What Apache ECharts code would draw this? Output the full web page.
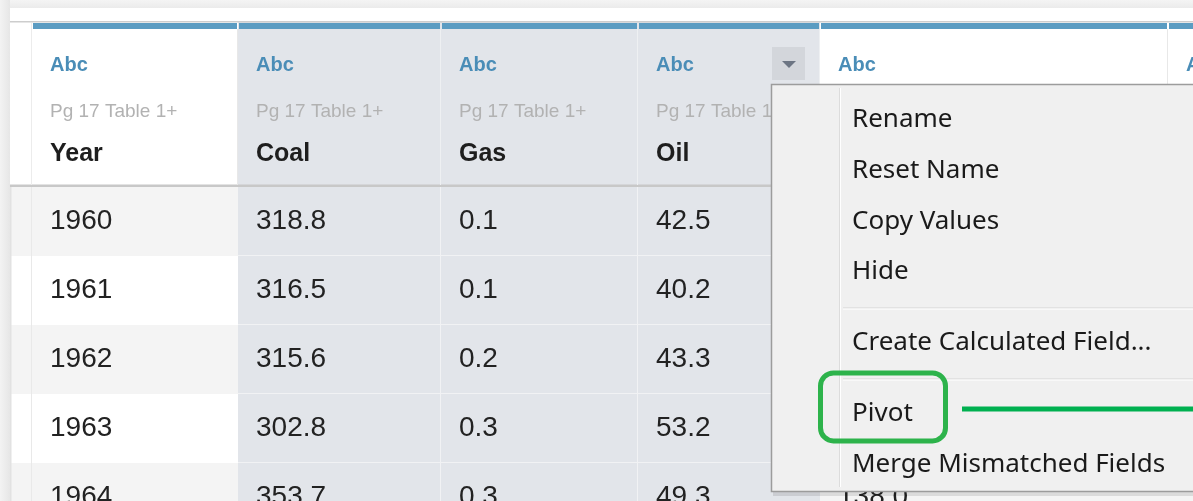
<!DOCTYPE html>
<html><head><meta charset="utf-8">
<script src="https://cdn.jsdelivr.net/npm/echarts@6/dist/echarts.min.js"></script>
<style>html,body{margin:0;padding:0;background:#fff}#c{width:1193px;height:501px}</style>
</head><body><div id="c"></div>
<script>
// ---- data ----
const fieldNames  = ['Year', 'Coal', 'Gas', 'Oil', '', ''];
const fieldTypes  = ['Abc', 'Abc', 'Abc', 'Abc', 'Abc', 'Abc'];
const fieldSource = ['Pg 17 Table 1+', 'Pg 17 Table 1+', 'Pg 17 Table 1+', 'Pg 17 Table 1+', '', ''];
const years = ['1960', '1961', '1962', '1963', '1964'];
const coal  = [318.8, 316.5, 315.6, 302.8, 353.7];
const gas   = [0.1, 0.1, 0.2, 0.3, 0.3];
const oil   = [42.5, 40.2, 43.3, 53.2, 49.3];
const nextField = [null, null, null, null, 138.0];
const menuItems = ['Rename', 'Reset Name', 'Copy Values', 'Hide', '-', 'Create Calculated Field...', '-', 'Pivot', 'Merge Mismatched Fields'];
const highlightedItem = 'Pivot';

// ---- layout / style ----
const L = {
  colEdges: [10, 32, 238, 441, 638, 820, 1168, 1420], // gutter, Year, Coal, Gas, Oil, next, next
  selected: [2, 3, 4],
  menuColumn: 4,
  textPad: 18
};
const fmt = v => (v == null ? '' : v.toFixed(1));
const columnText = [null, years, coal.map(fmt), gas.map(fmt), oil.map(fmt), nextField.map(fmt), []];
const FONT_NUM = '28px "Liberation Sans", Arial, sans-serif';
const FONT_MENU = '26px "Noto Sans", "Open Sans", sans-serif';

const bodyData = [];
for (let r = 0; r < years.length; r++) for (let c = 0; c < L.colEdges.length - 1; c++) bodyData.push([c, r]);
const headData = [];
for (let c = 0; c < L.colEdges.length - 1; c++) headData.push([c, 0]);

function renderBody(params, api) {
  const c = api.value(0), r = api.value(1);
  const ctr = api.coord([L.colEdges[c], r]);
  const x0 = ctr[0], x1 = api.coord([L.colEdges[c + 1], r])[0];
  const bandH = api.size([0, 1])[1];
  const y0 = ctr[1] - bandH / 2;
  const sel = L.selected.indexOf(c) >= 0;
  const fill = sel ? '#e2e5ea' : (r % 2 === 0 ? '#f4f4f4' : '#ffffff');
  const ch = [
    { type: 'rect', shape: { x: x0, y: y0, width: x1 - x0, height: bandH }, style: { fill: fill } }
  ];
  if (sel) {
    ch.push({ type: 'rect', shape: { x: x0, y: y0 + bandH - 1, width: x1 - x0, height: 2 }, style: { fill: '#f1f2f4' } });
    if (c !== 4) ch.push({ type: 'rect', shape: { x: x1 - 1, y: y0, width: 2, height: bandH }, style: { fill: '#f1f2f4' } });
  }
  if (c === 0) ch.push({ type: 'rect', shape: { x: x1 - 1, y: y0, width: 1.5, height: bandH }, style: { fill: '#e9e9e9' } });
  if (c === 0) ch.push({ type: 'rect', shape: { x: x0, y: y0, width: 1.5, height: bandH }, style: { fill: '#e2e2e2' } });
  const txt = c >= 1 && columnText[c] ? columnText[c][r] : '';
  if (txt) ch.push({ type: 'text', style: { text: txt, x: x0 + L.textPad, y: ctr[1], verticalAlign: 'middle', font: FONT_NUM, fill: '#222' } });
  return { type: 'group', children: ch };
}

function renderHead(params, api) {
  const c = api.value(0);
  const ctr = api.coord([L.colEdges[c], 0]);
  const x0 = ctr[0], x1 = api.coord([L.colEdges[c + 1], 0])[0];
  const bandH = api.size([0, 1])[1];
  const top = ctr[1] - bandH / 2; // body top
  const sel = L.selected.indexOf(c) >= 0;
  const ch = [
    { type: 'rect', shape: { x: x0, y: top - 165, width: x1 - x0, height: 163 }, style: { fill: sel ? '#e2e5ea' : '#ffffff' } },
    { type: 'rect', shape: { x: x0, y: top - 166, width: x1 - x0, height: 1.5 }, style: { fill: '#cdcdcd' } },
    { type: 'rect', shape: { x: x0, y: top - 2.5, width: x1 - x0, height: 2.5 }, style: { fill: '#c8c8c8' } }
  ];
  if (c >= 1) {
    ch.push({ type: 'rect', shape: { x: x0 + 1, y: top - 164, width: x1 - x0 - 2, height: 6 }, style: { fill: '#5b9cc2' } });
    ch.push({ type: 'rect', shape: { x: x1 - 1, y: top - 158, width: 1.5, height: 156 }, style: { fill: sel ? '#eef0f2' : '#e8e8e8' } });
    ch.push({ type: 'text', style: { text: fieldTypes[c - 1], x: x0 + L.textPad, y: top - 122, verticalAlign: 'middle', font: 'bold 20px "Liberation Sans", Arial, sans-serif', fill: '#4a8db7' } });
    ch.push({ type: 'text', style: { text: fieldSource[c - 1], x: x0 + L.textPad, y: top - 75, verticalAlign: 'middle', font: '19px "Liberation Sans", Arial, sans-serif', fill: '#b2b2b2' } });
    ch.push({ type: 'text', style: { text: fieldNames[c - 1], x: x0 + L.textPad, y: top - 33, verticalAlign: 'middle', font: 'bold 25px "Liberation Sans", Arial, sans-serif', fill: '#1e1e1e' } });
  } else {
    ch.push({ type: 'rect', shape: { x: x1 - 1, y: top - 164, width: 1.5, height: 162 }, style: { fill: '#ececec' } });
  }
  if (c === L.menuColumn) {
    const bx = x1 - 48, by = top - 140;
    ch.push({ type: 'rect', shape: { x: bx, y: by, width: 33, height: 33 }, style: { fill: '#d3d6db' } });
    ch.push({ type: 'polygon', shape: { points: [[bx + 10, by + 14], [bx + 24, by + 14], [bx + 17, by + 21]] }, style: { fill: '#6c7583' } });
  }
  return { type: 'group', children: ch };
}

// ---- context menu (UI chrome) ----
const menu = { x: 771, y: 84, w: 460, h: 407, gutter: 840, textX: 852, first: 119.5, step: 50.8, sepGap: 71 };
const menuEls = [
  { type: 'rect', z: 50, shape: { x: menu.x + 2, y: menu.y + 3, width: menu.w, height: menu.h + 2 }, style: { fill: 'rgba(0,0,0,0.10)' } },
  { type: 'rect', z: 51, shape: { x: menu.x + 0.5, y: menu.y + 0.5, width: menu.w, height: menu.h }, style: { fill: '#f0f0f0', stroke: '#9c9c9c', lineWidth: 1.5 } },
  { type: 'rect', z: 52, shape: { x: menu.gutter - 1, y: menu.y + 4, width: 1, height: menu.h - 8 }, style: { fill: '#dcdcdc' } },
  { type: 'rect', z: 52, shape: { x: menu.gutter, y: menu.y + 4, width: 1, height: menu.h - 8 }, style: { fill: '#ffffff' } }
];
let cy = menu.first, prev = null, hiY = null;
menuItems.forEach((it) => {
  if (it === '-') {
    const ly = prev + menu.sepGap / 2;
    menuEls.push({ type: 'rect', z: 52, shape: { x: menu.gutter + 3, y: ly, width: 400, height: 1.2 }, style: { fill: '#d4d4d4' } });
    menuEls.push({ type: 'rect', z: 52, shape: { x: menu.gutter + 3, y: ly + 1.2, width: 400, height: 1 }, style: { fill: '#ffffff' } });
    cy = prev + menu.sepGap;
    return;
  }
  menuEls.push({ type: 'text', z: 53, style: { text: it, x: menu.textX, y: cy, verticalAlign: 'middle', font: FONT_MENU, fill: '#1a1a1a' } });
  if (it === highlightedItem) hiY = cy;
  prev = cy;
  cy += menu.step;
});
if (hiY != null) {
  menuEls.push({ type: 'rect', z: 60, shape: { x: 820.5, y: hiY - 41, width: 125, height: 68, r: 13 }, style: { fill: 'none', stroke: '#2db34b', lineWidth: 5 } });
  menuEls.push({ type: 'line', z: 60, shape: { x1: 962, y1: hiY - 5, x2: 1200, y2: hiY - 5 }, style: { stroke: '#00b050', lineWidth: 5 } });
}

const chart = echarts.init(document.getElementById('c'), null, { renderer: 'canvas' });
chart.setOption({
  animation: false,
  backgroundColor: '#f2f2f2',
  grid: { left: 0, right: 0, top: 187, height: 345, outerBoundsMode: 'none', containLabel: false },
  xAxis: { type: 'value', min: 0, max: 1193, show: false },
  yAxis: { type: 'category', data: years, inverse: true, show: false },
  graphic: [
    { type: 'rect', z: -10, shape: { x: 10, y: 8, width: 1200, height: 500 }, style: { fill: '#ffffff' } },
    { type: 'rect', z: -10, shape: { x: 0, y: 0, width: 10, height: 501 }, style: { fill: { type: 'linear', x: 0, y: 0, x2: 1, y2: 0, colorStops: [{ offset: 0, color: '#f3f3f3' }, { offset: 1, color: '#e6e6e6' }] } } },
    { type: 'rect', z: -10, shape: { x: 10, y: 0, width: 1200, height: 8 }, style: { fill: { type: 'linear', x: 0, y: 0, x2: 0, y2: 1, colorStops: [{ offset: 0, color: '#f4f4f4' }, { offset: 1, color: '#ebebeb' }] } } }
  ].concat(menuEls),
  series: [
    { type: 'custom', name: 'body', data: bodyData, renderItem: renderBody, clip: false, silent: true, z: 2 },
    { type: 'custom', name: 'head', data: headData, renderItem: renderHead, clip: false, silent: true, z: 3 }
  ]
});
</script></body></html>
